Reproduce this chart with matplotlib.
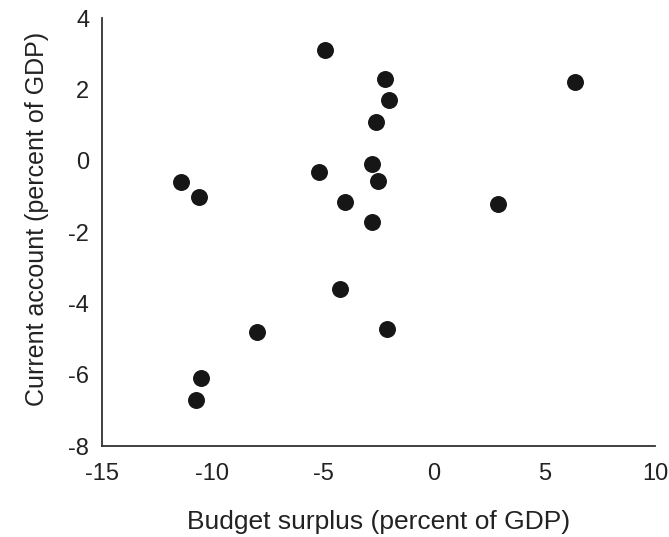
import matplotlib.pyplot as plt

plt.rcParams['font.family'] = ['Liberation Sans', 'DejaVu Sans']
plt.rcParams['axes.unicode_minus'] = False

# budget surplus vs current account, percent of GDP
budget = [-4.9, -11.4, -10.6, -5.2, -2.2, -2.0, -2.6, 6.4, -2.8, -2.5,
          -4.0, 2.9, -2.8, -8.0, -10.5, -10.75, -4.25, -2.1]
current = [3.1, -0.6, -1.0, -0.3, 2.3, 1.7, 1.1, 2.2, -0.1, -0.55,
           -1.15, -1.2, -1.7, -4.8, -6.1, -6.7, -3.6, -4.7]
xticks = [-15, -10, -5, 0, 5, 10]
yticks = [-8, -6, -4, -2, 0, 2, 4]

fig = plt.figure(figsize=(6.69, 5.37), dpi=100)
ax = fig.add_axes([0.152, 0.169, 0.827, 0.797])
ax.scatter(budget, current, s=125, color='#161616', zorder=3)

ax.set_xlim(-15, 10)
ax.set_ylim(-8, 4)
ax.set_xticks(xticks)
ax.set_yticks(yticks)
ax.tick_params(length=0, labelsize=17, colors='#222222')
ax.tick_params(axis='x', pad=12)
ax.tick_params(axis='y', pad=9)
for side in ['top', 'right']:
    ax.spines[side].set_visible(False)
for side in ['left', 'bottom']:
    ax.spines[side].set_color('#333333')
    ax.spines[side].set_linewidth(1.3)

ax.set_xlabel("Budget surplus (percent of GDP)", fontsize=19, color='#222222')
ax.set_ylabel("Current account (percent of GDP)", fontsize=18, color='#222222')
ax.xaxis.set_label_coords(0.5, -0.15)
ax.yaxis.set_label_coords(-0.095, 0.53)

fig.savefig("out.png", dpi=100)
